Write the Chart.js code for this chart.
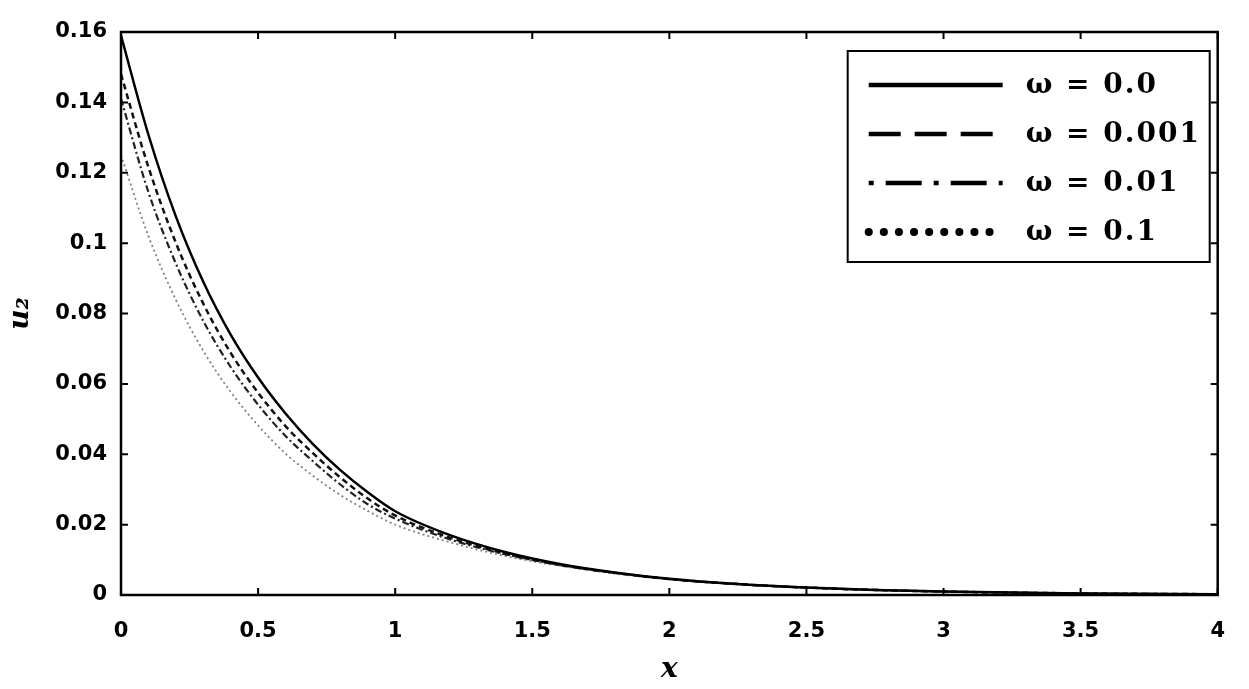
<!DOCTYPE html>
<html>
<head>
<meta charset="utf-8">
<script src="https://cdn.jsdelivr.net/npm/chart.js@4.4.1/dist/chart.umd.min.js"></script>
<style>
  html, body { margin: 0; padding: 0; background: #fff; }
  canvas { display: block; }
</style>
</head>
<body>
<canvas id="chart-u2" width="1249" height="689"></canvas>
<script>
// x positions shared by all curves
const xs = [0, 0.1, 0.2, 0.3, 0.4, 0.5, 0.6, 0.7, 0.8, 0.9, 1.0, 1.2, 1.4, 1.6, 1.8, 2.0, 2.25, 2.5, 2.75, 3.0, 3.5, 4.0];

const seriesLabels = ['ω = 0.0', 'ω = 0.001', 'ω = 0.01', 'ω = 0.1'];

const u2Omega0 = [0.159, 0.1308, 0.1076, 0.089, 0.074, 0.0618, 0.0516, 0.0429, 0.0355, 0.0292, 0.0238, 0.017, 0.0122, 0.0088, 0.0064, 0.0046, 0.0031, 0.0021, 0.00144, 0.00098, 0.00045, 0.00021];
const u2Omega0001 = [0.148, 0.1216, 0.1001, 0.0828, 0.0688, 0.0575, 0.048, 0.0403, 0.0334, 0.0274, 0.0226, 0.0163, 0.0118, 0.0086, 0.0063, 0.00455, 0.0031, 0.0021, 0.00144, 0.00098, 0.00045, 0.00021];
const u2Omega001 = [0.141, 0.1145, 0.0942, 0.0779, 0.0648, 0.0541, 0.0452, 0.038, 0.0314, 0.0258, 0.0217, 0.0158, 0.0116, 0.0085, 0.0063, 0.0045, 0.0031, 0.0021, 0.00144, 0.00098, 0.00045, 0.00021];
const u2Omega01 = [0.125, 0.102, 0.0839, 0.0694, 0.0577, 0.0482, 0.0402, 0.0339, 0.0284, 0.0239, 0.02, 0.015, 0.0111, 0.0083, 0.0061, 0.00446, 0.003, 0.0021, 0.00144, 0.00098, 0.00045, 0.00021];

const xTickVals = [0, 0.5, 1, 1.5, 2, 2.5, 3, 3.5, 4];
const yTickVals = [0, 0.02, 0.04, 0.06, 0.08, 0.1, 0.12, 0.14, 0.16];

const allSeries = [u2Omega0, u2Omega0001, u2Omega001, u2Omega01];

// line looks inside the plot
const plotStyles = [
    { color: '#000', width: 2.5, dash: [] },
    { color: '#111', width: 2.5, dash: [6, 4] },
    { color: '#222', width: 2.2, dash: [7, 3, 2, 3] },
    { color: '#808080', width: 1.8, dash: [2, 3] }
];

// line looks in the legend box (drawn thicker there)
const legendStyles = [
    { width: 4.5, dash: [], cap: 'butt' },
    { width: 4.5, dash: [32, 14], cap: 'butt' },
    { width: 4.5, dash: [5, 12, 36, 12], cap: 'butt' },
    { width: 8, dash: [0.1, 15], cap: 'round' }
];

const tickFont = { family: '"DejaVu Sans", sans-serif', size: 21, weight: 'bold' };

const frameAndLegend = {
    id: 'frameAndLegend',
    afterDraw(chart) {
        const ctx = chart.ctx;
        const ca = chart.chartArea;
        const sx = chart.scales.x;
        const sy = chart.scales.y;
        ctx.save();
        ctx.strokeStyle = '#000';
        ctx.lineWidth = 2.5;
        ctx.setLineDash([]);
        ctx.strokeRect(ca.left, ca.top, ca.right - ca.left, ca.bottom - ca.top);

        // inward ticks on all four sides
        ctx.lineWidth = 2;
        const tl = 7;
        ctx.beginPath();
        xTickVals.forEach(v => {
            const px = sx.getPixelForValue(v);
            ctx.moveTo(px, ca.bottom); ctx.lineTo(px, ca.bottom - tl);
            ctx.moveTo(px, ca.top); ctx.lineTo(px, ca.top + tl);
        });
        yTickVals.forEach(v => {
            const py = sy.getPixelForValue(v);
            ctx.moveTo(ca.left, py); ctx.lineTo(ca.left + tl, py);
            ctx.moveTo(ca.right, py); ctx.lineTo(ca.right - tl, py);
        });
        ctx.stroke();

        // legend box
        const bx = ca.right - 370, by = ca.top + 19, bw = 362, bh = 211;
        ctx.fillStyle = '#fff';
        ctx.fillRect(bx, by, bw, bh);
        ctx.lineWidth = 2;
        ctx.strokeRect(bx, by, bw, bh);

        ctx.font = 'bold 28px "DejaVu Serif", serif';
        ctx.letterSpacing = '2px';
        ctx.textBaseline = 'middle';
        ctx.textAlign = 'left';
        seriesLabels.forEach((lab, i) => {
            const ry = by + 34 + i * 49;
            const st = legendStyles[i];
            ctx.beginPath();
            ctx.lineWidth = st.width;
            ctx.lineCap = st.cap;
            ctx.setLineDash(st.dash);
            ctx.moveTo(bx + 21, ry);
            ctx.lineTo(bx + 155, ry);
            ctx.stroke();
            ctx.setLineDash([]);
            ctx.fillStyle = '#000';
            ctx.fillText(lab, bx + 178, ry + 1);
        });
        ctx.restore();
    }
};

const datasets = allSeries.map((ys, i) => ({
    label: seriesLabels[i],
    data: xs.map((x, k) => ({ x: x, y: ys[k] })),
    borderColor: plotStyles[i].color,
    borderWidth: plotStyles[i].width,
    borderDash: plotStyles[i].dash,
    pointRadius: 0,
    fill: false,
    cubicInterpolationMode: 'monotone'
}));

const config = {
    type: 'line',
    data: { datasets: datasets },
    options: {
        responsive: false,
        animation: false,
        devicePixelRatio: 1,
        layout: { padding: { left: 0, top: 32, right: 24, bottom: 0 } },
        plugins: {
            legend: { display: false },
            tooltip: { enabled: false }
        },
        scales: {
            x: {
                type: 'linear',
                min: 0,
                max: 4,
                afterBuildTicks: s => { s.ticks = xTickVals.map(v => ({ value: v })); },
                afterFit: s => { s.height = 94; },
                grid: { display: false, drawTicks: false },
                border: { display: false },
                ticks: {
                    color: '#000',
                    font: tickFont,
                    padding: 24,
                    maxRotation: 0,
                    callback: v => String(v)
                },
                title: {
                    display: true,
                    text: 'x',
                    color: '#000',
                    font: { family: '"DejaVu Serif", serif', size: 28, style: 'italic', weight: 'bold' },
                    padding: { top: 0, bottom: 2 }
                }
            },
            y: {
                type: 'linear',
                min: 0,
                max: 0.16,
                afterBuildTicks: s => { s.ticks = yTickVals.map(v => ({ value: v })); },
                afterFit: s => { s.width = 121; },
                grid: { display: false, drawTicks: false },
                border: { display: false },
                ticks: {
                    color: '#000',
                    font: tickFont,
                    padding: 14,
                    callback: v => String(+v.toFixed(2))
                },
                title: {
                    display: true,
                    text: 'u₂',
                    color: '#000',
                    font: { family: '"DejaVu Serif", serif', size: 28, style: 'italic', weight: 'bold' },
                    padding: { top: 4, bottom: 0 }
                }
            }
        }
    },
    plugins: [frameAndLegend]
};

const chartU2 = new Chart(document.getElementById('chart-u2'), config);
</script>
</body>
</html>
